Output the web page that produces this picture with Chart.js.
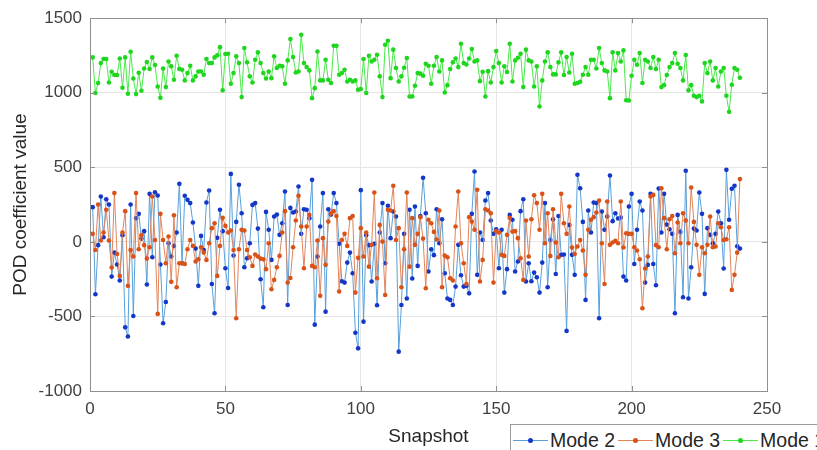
<!DOCTYPE html>
<html>
<head>
<meta charset="utf-8">
<script src="https://cdn.jsdelivr.net/npm/chart.js@4.4.0/dist/chart.umd.min.js"></script>
<style>
	html, body { margin: 0; padding: 0; background: #fff; overflow: hidden; }
	#wrap { position: relative; width: 817px; height: 450px; overflow: hidden; }
	#pod-legend {
		position: absolute; left: 510px; top: 424px; height: 30px; width: max-content;
		border: 1px solid #9a9a9a; background: #fff; white-space: nowrap;
		display: flex; flex-wrap: nowrap; align-items: center; padding-left: 2px; padding-right: 40px;
		font: 19.5px "Liberation Sans", Arial, sans-serif; color: #262626;
	}
	#pod-legend .sw { display: inline-block; flex: none; position: relative; width: 35px; height: 12px; margin: 0 2px 0 0; }
	#pod-legend .sw b { position: absolute; left: 0; right: 0; top: 6px; border-top: 1px solid; }
	#pod-legend .sw i { position: absolute; left: 15px; top: 4px; width: 5px; height: 5px; border-radius: 50%; }
	#pod-legend .item { display: inline-flex; flex: none; align-items: center; margin-right: 3px; }
</style>
</head>
<body>
<div id="wrap">
	<canvas id="pod-chart" width="817" height="450"></canvas>
	<div id="pod-legend"></div>
</div>
<script>
/* global Chart */
// values, snapshots 1..240
var modeOne = [
	1237, 998, 1065, 1199, 1226, 1226, 1069, 1141, 1119, 1119, 1230, 1034, 1237, 993, 1275, 1096, 991, 1134, 1013, 1163,
	1206, 1159, 1237, 1186, 1042, 966, 1163, 1038, 1210, 1177, 1087, 1248, 1160,
	1154, 1083, 1132, 1181, 1083, 1110, 1143, 1143, 1121, 1226, 1199, 1199, 1237, 1251, 1306, 1016, 1260, 1262, 1060, 1132,
	1244, 1199, 971, 1300, 1204, 1110, 1069, 1221, 1271, 1199, 1132, 1096, 1143,
	1098, 1244, 1166, 1181, 1177, 1060, 1217, 1360, 1239, 1136, 1143, 1389, 1199, 1172, 1150, 964, 1031, 1277, 1083, 1083,
	1221, 1087, 1065, 1315, 1315, 1121, 1132, 1154, 1076, 1087, 1076, 1083, 1020,
	1025, 1226, 998, 1248, 1210, 1221, 1255, 1110, 971, 1322, 1349, 1098, 1289, 1166, 1076, 1110, 1168, 1233, 975, 975,
	1047, 1132, 1128, 1114, 1195, 1181, 1060, 1181, 1239, 1143, 1217, 1002, 1051,
	1159, 1204, 1230, 1172, 1329, 1199, 1190, 1230, 1293, 1210, 1217, 1078, 1141, 975, 1145, 1069, 1172, 1280, 1199, 1069,
	1177, 1139, 1329, 1076, 1217, 1235, 1262, 1038, 1289, 1217, 1210, 1042, 1177,
	908, 1083, 1210, 1271, 1172, 1123, 1123, 1204, 1271, 1119, 1239, 1136, 1262, 1060, 1065, 1074, 1121, 1172, 1121, 1221,
	1221, 1163, 1300, 1199, 1150, 1143, 964, 1271, 1150, 1266, 1210, 1284, 950,
	948, 1114, 1221, 1188, 1266, 1065, 1221, 1210, 1166, 1239, 1159, 1221, 1038, 1051, 1119, 1172, 1199, 1266, 1195, 1166,
	1083, 1253, 1016, 1051, 980, 971, 980, 942, 1199, 1132, 1210, 1083, 1166,
	1042, 1143, 1166, 980, 872, 1054, 1166, 1154, 1101
];
var modeTwo = [
	233, -351, -22, 304, 31, 286, 251, -233, -72, -152, -259, 45, -573, -635, 251, -497, 159, 188, 22, 72,
	-286, 322, -103, 333, 311, -152, -546, -403, -9, -98, -27, 63, 389,
	-143, 309, 282, 260, 130, -45, -295, 40, -54, 264, 345, -282, -479, 27, 215, 72, -177, -309, 456, -92,
	134, 383, 192, -170, -110, -9, 248, 260, 89, -251, -438, 201, 81,
	-121, 170, 183, 47, 125, 338, -423, 228, 197, 204, 371, 54, 219, 215, 159, 416, -555, -98, 103, 327,
	-468, 219, 183, 327, 260, -13, -264, -273, -139, -72, -210, -609, -714,
	347, -535, 45, -22, -266, -13, -425, 63, 260, -143, 242, 25, 204, 170, -736, -423, 54, -380, 215, -246,
	237, -161, 174, 430, 192, -199, -49, -89, 219, -9, 152, -210, -380,
	-389, -423, -300, -20, -224, -300, -295, -345, 188, 472, -221, 63, 13, 277, 327, 143, 54, 85, -177, 81,
	-340, -183, 181, 148, -199, -132, 206, 286, -266, -143, -264, -206, -237,
	-340, -139, 260, -304, 13, 152, -215, 174, -87, -85, -597, 114, -87, -221, 450, 360, 134, -389, 210, 63,
	264, 260, -512, 204, 81, 170, 445, 139, 192, 157, 163, -233, -259,
	237, 322, -148, 81, 271, 210, -273, -154, 322, -148, -291, 358, 63, 322, 116, 85, 54, -479, 181, 67,
	-371, 477, -380, -170, 89, 76, 331, 188, -349, 92, 47, -9, 54,
	204, 125, -179, 483, 148, 356, 376, -30, -45
];
var modeThree = [
	54, -54, 251, 9, 63, 215, 9, -172, 327, -81, -228, 63, 206, -295, -54, -98, 327, -49, 45, -22,
	-112, -36, 304, 13, -483, 188, 13, -143, 36, -268, 179, -304, -143,
	-143, -148, -49, 13, -27, -132, -116, -36, -72, -121, -9, 92, 125, -228, -27, 161, 107, 63, 76, -54,
	-512, -49, 81, 76, -54, -103, -161, -85, -98, -112, -116, -183, -9,
	-318, -255, -170, -94, 63, 206, -273, -242, -36, 143, 309, 103, -177, 103, 181, -161, -170, 9, -362, 25,
	-154, 136, 192, 206, 174, -333, 13, 54, -27, 159, 174, -340, -107,
	92, -98, 63, -166, -20, 331, -244, 114, 2, -356, 215, 210, 376, 13, 92, -304, -49, 331, -166, 159,
	-20, 54, 166, 22, -311, 148, 125, 67, 16, 210, -304, -92, -103,
	-244, -259, 103, 338, -9, -143, -282, 166, 136, 81, 349, -266, -121, 219, 210, 192, -273, 72, 63, -87,
	-94, 47, 161, 69, 72, 25, -110, -255, 143, -98, 152, 313, 260,
	81, 322, -9, 192, -94, 219, -4, -103, 322, 125, 54, 237, -38, -81, -31, 13, -58, -221, 81, 148,
	166, 197, 277, -9, -282, 271, -20, -4, 7, -9, 271, -38, 58,
	54, 54, -36, -58, -116, -445, -179, -98, 304, 315, -22, -36, 360, 159, -49, 152, 174, -76, 130, -9,
	192, 143, -9, 365, 134, -20, -221, -36, -76, -20, 170, -36, -31,
	125, 98, 13, 18, 98, -322, -221, -72, 421
];
var xTicks = [ 0, 50, 100, 150, 200, 250 ];
var yTicks = [ -1000, -500, 0, 500, 1000, 1500 ];
var seriesNames = [ 'Mode 2', 'Mode 3', 'Mode 1' ];

(function () {
	'use strict';

	var FONT = '"Liberation Sans", Arial, sans-serif';

	function toPoints( values ) {
		return values.map( function ( v, i ) {
			return { x: i + 1, y: v };
		} );
	}

	function fixedTicks( list ) {
		return function ( scale ) {
			scale.ticks = list.map( function ( v ) { return { value: v }; } );
		};
	}

	function plainLabel( v ) {
		return String( v );
	}

	// matlab style box round the axes, with short inward ticks
	var axesBox = {
		id: 'axesBox',
		afterDatasetsDraw: function ( chart ) {
			var a = chart.chartArea;
			var ctx = chart.ctx;
			var xs = chart.scales.x;
			var ys = chart.scales.y;
			ctx.save();
			ctx.strokeStyle = '#8f8f8f';
			ctx.lineWidth = 1;
			ctx.strokeRect( Math.round( a.left ) + 0.5, Math.round( a.top ) + 0.5,
				Math.round( a.right - a.left ), Math.round( a.bottom - a.top ) );
			ctx.beginPath();
			xTicks.forEach( function ( v ) {
				var px = Math.round( xs.getPixelForValue( v ) ) + 0.5;
				ctx.moveTo( px, a.bottom ); ctx.lineTo( px, a.bottom - 5 );
				ctx.moveTo( px, a.top ); ctx.lineTo( px, a.top + 5 );
			} );
			yTicks.forEach( function ( v ) {
				var py = Math.round( ys.getPixelForValue( v ) ) + 0.5;
				ctx.moveTo( a.left, py ); ctx.lineTo( a.left + 5, py );
				ctx.moveTo( a.right, py ); ctx.lineTo( a.right - 5, py );
			} );
			ctx.stroke();
			ctx.restore();
		}
	};

	var styles = [
		{ line: '#58a0da', dot: '#1437c8', order: 2 },
		{ line: '#e2845a', dot: '#d95319', order: 1 },
		{ line: '#4ce84c', dot: '#1fd61f', order: 0 }
	];
	var series = [ modeTwo, modeThree, modeOne ];

	var datasets = series.map( function ( values, i ) {
		return {
			label: seriesNames[ i ],
			data: toPoints( values ),
			borderColor: styles[ i ].line,
			backgroundColor: styles[ i ].dot,
			pointBackgroundColor: styles[ i ].dot,
			pointBorderWidth: 0,
			pointRadius: 2.3,
			borderWidth: 1,
			tension: 0,
			order: styles[ i ].order
		};
	} );

	var el = document.getElementById( 'pod-chart' );
	var chart = new Chart( el, {
		type: 'line',
		data: { datasets: datasets },
		plugins: [ axesBox ],
		options: {
			responsive: false,
			animation: false,
			layout: { padding: { left: 0, right: 50, top: 18, bottom: 0 } },
			plugins: { legend: { display: false }, tooltip: { enabled: false } },
			scales: {
				x: {
					type: 'linear',
					min: 0,
					max: 250,
					afterBuildTicks: fixedTicks( xTicks ),
					afterFit: function ( s ) { s.height = 59; },
					border: { display: false },
					grid: { color: '#e6e6e6', drawTicks: false },
					ticks: { padding: 8, color: '#404040', callback: plainLabel, font: { family: FONT, size: 17 } },
					title: {
						display: true,
						text: 'Snapshot',
						color: '#262626',
						padding: { top: 0, bottom: 2 },
						font: { family: FONT, size: 19 }
					}
				},
				y: {
					min: -1000,
					max: 1500,
					afterBuildTicks: fixedTicks( yTicks ),
					afterFit: function ( s ) { s.width = 90; },
					border: { display: false },
					grid: { color: '#e6e6e6', drawTicks: false },
					ticks: { padding: 8, color: '#404040', callback: plainLabel, font: { family: FONT, size: 17 } },
					title: {
						display: true,
						text: 'POD coefficient value',
						color: '#262626',
						padding: { top: 9, bottom: 0 },
						font: { family: FONT, size: 19 }
					}
				}
			}
		}
	} );

	// legend box built from the datasets, cut off by the page edge like the reference
	var legend = document.getElementById( 'pod-legend' );
	chart.data.datasets.forEach( function ( ds ) {
		var item = document.createElement( 'span' );
		item.className = 'item';
		var sw = document.createElement( 'span' );
		sw.className = 'sw';
		var ln = document.createElement( 'b' );
		ln.style.borderColor = ds.borderColor;
		var dot = document.createElement( 'i' );
		dot.style.background = ds.pointBackgroundColor;
		sw.appendChild( ln );
		sw.appendChild( dot );
		item.appendChild( sw );
		item.appendChild( document.createTextNode( ds.label ) );
		legend.appendChild( item );
	} );
}() );
</script>
</body>
</html>
